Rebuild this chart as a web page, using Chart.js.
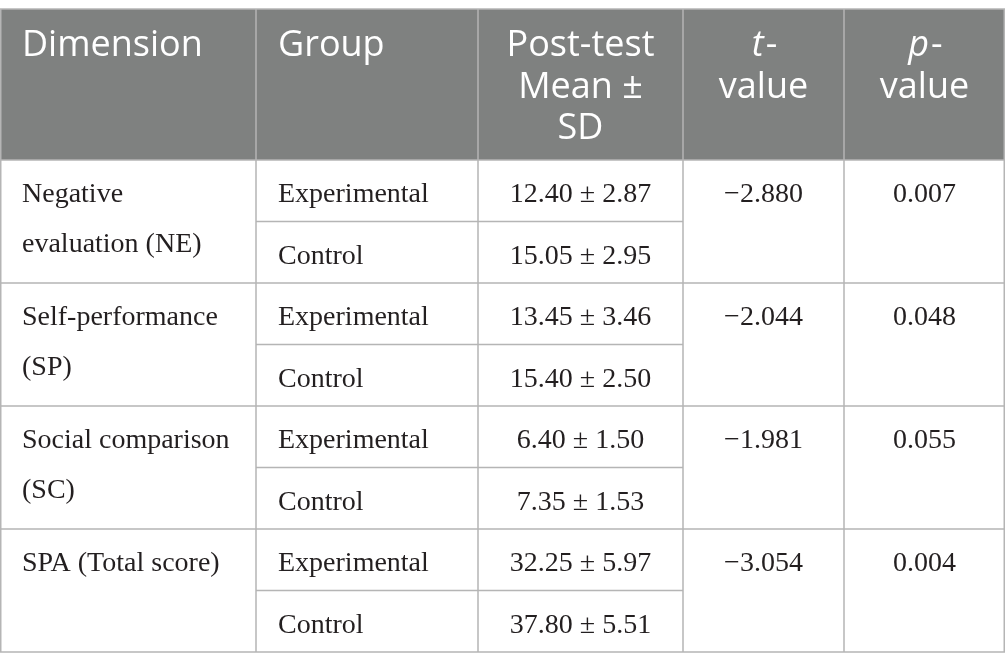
<!DOCTYPE html>
<html lang="en">
<head>
    <meta charset="UTF-8">
    <title>Post-test comparison table</title>
    <script src="https://cdn.jsdelivr.net/npm/chart.js"></script>
    <style>
        body { margin: 0; background: #fff; }
    </style>
</head>
<body>
<canvas id="myChart" width="1005" height="670"></canvas>
<script>
    // table data
    const headers = [["Dimension"], ["Group"], ["Post-test", "Mean ±", "SD"], ["t-", "value"], ["p-", "value"]];
    const dimensions = [["Negative", "evaluation (NE)"], ["Self-performance", "(SP)"], ["Social comparison", "(SC)"], ["SPA (Total score)"]];
    const groups = ["Experimental", "Control"];
    const means = [12.40, 15.05, 13.45, 15.40, 6.40, 7.35, 32.25, 37.80];
    const sds = [2.87, 2.95, 3.46, 2.50, 1.50, 1.53, 5.97, 5.51];
    const tValues = [-2.880, -2.044, -1.981, -3.054];
    const pValues = [0.007, 0.048, 0.055, 0.004];

    // layout (in scale units)
    const colEdges = [0, 256, 478, 683, 844, 1005];
    const headTop = 9;
    const headBottom = 160;
    const rowH = 61.5;
    const pad = 22;

    const headFont = '36px "Open Sans"';
    const headItalic = 'italic 36px "Open Sans"';
    const bodyFont = '28px "Liberation Serif"';
    const lineColor = '#b5b5b5';

    function fmtNum(v, d) {
        return v.toFixed(d).replace('-', '\u2212');
    }

    const tablePlugin = {
        id: 'tablePlugin',
        afterDraw(chart) {
            const ctx = chart.ctx;
            const xs = chart.scales.x;
            const ys = chart.scales.y;
            const X = v => xs.getPixelForValue(v);
            const Y = v => ys.getPixelForValue(v);

            ctx.save();
            // header background
            ctx.fillStyle = '#7f8180';
            ctx.fillRect(X(0), Y(headTop), X(1005) - X(0), Y(headBottom) - Y(headTop));

            // header text
            ctx.fillStyle = '#ffffff';
            ctx.textBaseline = 'alphabetic';
            for (let c = 0; c < headers.length; c++) {
                const lines = headers[c];
                for (let l = 0; l < lines.length; l++) {
                    const by = Y(headTop + 47 + l * 41.5);
                    let txt = lines[l];
                    if (c < 2) {
                        ctx.font = headFont;
                        ctx.textAlign = 'left';
                        ctx.fillText(txt, X(colEdges[c] + pad), by);
                    } else {
                        const cx = X((colEdges[c] + colEdges[c + 1]) / 2);
                        if (c >= 3 && l === 0) {
                            // italic letter + hyphen
                            ctx.font = headItalic;
                            const w1 = ctx.measureText(txt[0]).width;
                            ctx.font = headFont;
                            const w2 = ctx.measureText(txt.slice(1)).width;
                            const sx = cx - (w1 + w2) / 2;
                            ctx.textAlign = 'left';
                            ctx.font = headItalic;
                            ctx.fillText(txt[0], sx, by);
                            ctx.font = headFont;
                            ctx.fillText(txt.slice(1), sx + w1 + 2, by);
                        } else {
                            ctx.font = headFont;
                            ctx.textAlign = 'center';
                            ctx.fillText(txt, cx, by);
                        }
                    }
                }
            }

            // body text
            ctx.fillStyle = '#231f20';
            ctx.font = bodyFont;
            for (let i = 0; i < dimensions.length; i++) {
                const top = headBottom + i * 2 * rowH;
                ctx.textAlign = 'left';
                dimensions[i].forEach((s, l) => {
                    ctx.fillText(s, X(colEdges[0] + pad), Y(top + 42 + l * 50));
                });
                for (let g = 0; g < groups.length; g++) {
                    const by = Y(top + g * rowH + 42);
                    const k = i * 2 + g;
                    ctx.textAlign = 'left';
                    ctx.fillText(groups[g], X(colEdges[1] + pad), by);
                    ctx.textAlign = 'center';
                    ctx.fillText(fmtNum(means[k], 2) + ' \u00b1 ' + fmtNum(sds[k], 2),
                        X((colEdges[2] + colEdges[3]) / 2), by);
                }
                ctx.textAlign = 'center';
                ctx.fillText(fmtNum(tValues[i], 3), X((colEdges[3] + colEdges[4]) / 2), Y(top + 42));
                ctx.fillText(fmtNum(pValues[i], 3), X((colEdges[4] + colEdges[5]) / 2), Y(top + 42));
            }

            // grid lines
            ctx.strokeStyle = lineColor;
            ctx.lineWidth = 1.5;
            const hline = (y, x0, x1) => {
                ctx.beginPath();
                ctx.moveTo(X(x0), Y(y));
                ctx.lineTo(X(x1), Y(y));
                ctx.stroke();
            };
            const vline = (x, y0, y1) => {
                ctx.beginPath();
                ctx.moveTo(X(x), Y(y0));
                ctx.lineTo(X(x), Y(y1));
                ctx.stroke();
            };
            const bottom = headBottom + dimensions.length * 2 * rowH;
            hline(headTop, 0, 1005);
            hline(headBottom, 0, 1005);
            for (let i = 0; i < dimensions.length; i++) {
                const top = headBottom + i * 2 * rowH;
                hline(top + rowH, colEdges[1], colEdges[3]);
                hline(top + 2 * rowH, 0, 1005);
            }
            colEdges.forEach((x, j) => {
                const xx = j === 0 ? 0.75 : (j === colEdges.length - 1 ? 1004.25 : x);
                vline(xx, headTop, bottom);
            });
            ctx.restore();
        }
    };

    function draw() {
        new Chart(document.getElementById('myChart'), {
            type: 'scatter',
            data: { datasets: [] },
            options: {
                responsive: false,
                animation: false,
                devicePixelRatio: 1,
                layout: { padding: 0 },
                plugins: { legend: { display: false }, tooltip: { enabled: false } },
                scales: {
                    x: { type: 'linear', min: 0, max: 1005, display: false },
                    y: { type: 'linear', min: 0, max: 670, reverse: true, display: false }
                }
            },
            plugins: [tablePlugin]
        });
    }

    Promise.all([
        document.fonts.load(headFont),
        document.fonts.load(headItalic),
        document.fonts.load(bodyFont)
    ]).then(draw, draw);
</script>
</body>
</html>
